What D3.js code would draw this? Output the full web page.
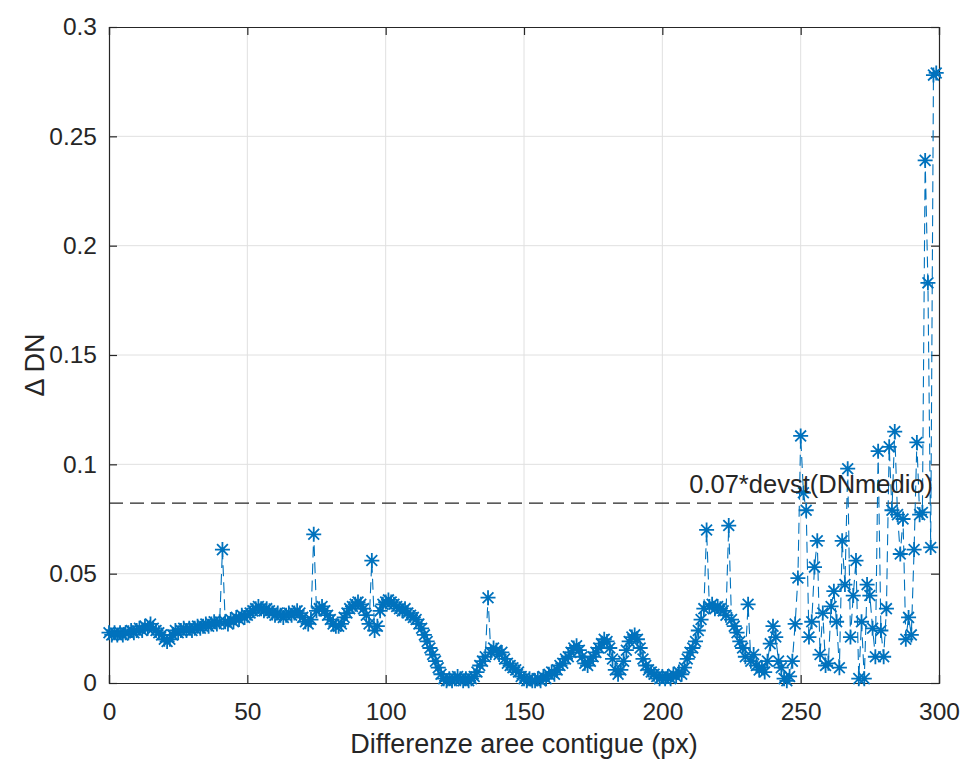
<!DOCTYPE html>
<html>
<head>
<meta charset="utf-8">
<script src="https://cdn.jsdelivr.net/npm/d3@7"></script>
<style>
	body { margin: 0; background: #fff; }
	text { font-family: "Liberation Sans", Arial, Helvetica, sans-serif; fill: #262626; }
</style>
</head>
<body>
<div id="chart"></div>
<script>

// ΔDN per ogni differenza di area (x = 0, 1, 2, ...)
let deltaDN = [
	0.023, 0.022, 0.023, 0.022, 0.023, 0.022, 0.023, 0.023, 0.024, 0.023,
	0.024, 0.025, 0.024, 0.026, 0.025, 0.027, 0.025, 0.024, 0.023, 0.022,
	0.020, 0.019, 0.020, 0.022, 0.024, 0.023, 0.024, 0.025, 0.024, 0.025,
	0.024, 0.025, 0.026, 0.025, 0.026, 0.027, 0.026, 0.027, 0.028, 0.027,
	0.028, 0.061, 0.028, 0.027, 0.029, 0.028, 0.030, 0.029, 0.031, 0.030,
	0.031, 0.032, 0.033, 0.034, 0.035, 0.034, 0.033, 0.034, 0.033, 0.032,
	0.031, 0.032, 0.031, 0.030, 0.031, 0.032, 0.031, 0.032, 0.033, 0.032,
	0.030, 0.028, 0.027, 0.029, 0.068, 0.033, 0.034, 0.035, 0.033, 0.031,
	0.029, 0.027, 0.026, 0.026, 0.027, 0.030, 0.032, 0.034, 0.035, 0.036,
	0.037, 0.036, 0.034, 0.031, 0.027, 0.056, 0.024, 0.026, 0.033, 0.036,
	0.037, 0.038, 0.037, 0.036, 0.035, 0.034, 0.033, 0.034, 0.032, 0.031,
	0.030, 0.029, 0.027, 0.025, 0.022, 0.019, 0.016, 0.013, 0.010, 0.007,
	0.004, 0.002, 0.001, 0.002, 0.001, 0.002, 0.003, 0.002, 0.001, 0.002,
	0.001, 0.002, 0.003, 0.005, 0.008, 0.010, 0.012, 0.039, 0.014, 0.016,
	0.015, 0.013, 0.014, 0.011, 0.009, 0.008, 0.007, 0.006, 0.005, 0.003,
	0.002, 0.001, 0.002, 0.001, 0.001, 0.002, 0.001, 0.003, 0.002, 0.004,
	0.005, 0.004, 0.006, 0.008, 0.009, 0.011, 0.012, 0.014, 0.016, 0.017,
	0.015, 0.012, 0.009, 0.008, 0.010, 0.012, 0.014, 0.016, 0.018, 0.020,
	0.019, 0.016, 0.011, 0.006, 0.004, 0.006, 0.010, 0.015, 0.019, 0.021,
	0.022, 0.020, 0.016, 0.011, 0.008, 0.006, 0.005, 0.004, 0.003, 0.002,
	0.003, 0.002, 0.003, 0.002, 0.004, 0.003, 0.005, 0.004, 0.007, 0.011,
	0.014, 0.016, 0.019, 0.024, 0.029, 0.034, 0.070, 0.035, 0.036, 0.034,
	0.035, 0.034, 0.033, 0.031, 0.072, 0.029, 0.026, 0.023, 0.019, 0.016,
	0.012, 0.036, 0.010, 0.013, 0.008, 0.006, 0.007, 0.005, 0.010, 0.018,
	0.026, 0.021, 0.010, 0.007, 0.002, 0.001, 0.003, 0.010, 0.027, 0.048,
	0.113, 0.087, 0.079, 0.021, 0.028, 0.053, 0.065, 0.013, 0.032, 0.008,
	0.009, 0.035, 0.042, 0.028, 0.007, 0.065, 0.045, 0.098, 0.021, 0.040,
	0.056, 0.002, 0.028, 0.002, 0.045, 0.040, 0.025, 0.012, 0.106, 0.024,
	0.012, 0.034, 0.108, 0.079, 0.115, 0.077, 0.059, 0.075, 0.020, 0.030,
	0.022, 0.061, 0.110, 0.077, 0.078, 0.239, 0.183, 0.062, 0.278, 0.279
];

let xTicks = [0, 50, 100, 150, 200, 250, 300],
	yTicks = [0, 0.05, 0.1, 0.15, 0.2, 0.25, 0.3];

// soglia: 0.07*devst(DNmedio)
let thresholdValue = 0.0823,
	thresholdLabel = "0.07*devst(DNmedio)";

let xLabel = "Differenze aree contigue (px)",
	yLabel = "\u0394 DN";


function draw () {

	let width 	= 966,
		height 	= 764,
		margin 	= {left: 109, right: 27, top: 27, bottom: 81},
		plotW 	= width - margin.left - margin.right,
		plotH 	= height - margin.top - margin.bottom;

	let blue 	= "#0072bd",
		axisCol = "#262626",
		gridCol = "#e0e0e0";

	let svg = d3.select("#chart")
		.append("svg")
			.attr("width", width)
			.attr("height", height);

	let g = svg.append("g")
		.attr("transform", "translate(" + margin.left + "," + margin.top + ")");

	let xScale = d3.scaleLinear()
		.domain([0, 300])
		.range([0, plotW]);

	let yScale = d3.scaleLinear()
		.domain([0, 0.3])
		.range([plotH, 0]);

	// grid /////////////////////////////////////////////////

	g.append("g")
		.selectAll("line")
		.data(xTicks.slice(1, -1))
			.enter()
				.append("line")
					.attr("x1", d => xScale(d))
					.attr("x2", d => xScale(d))
					.attr("y1", 0)
					.attr("y2", plotH)
					.style("stroke", gridCol);

	g.append("g")
		.selectAll("line")
		.data(yTicks.slice(1, -1))
			.enter()
				.append("line")
					.attr("x1", 0)
					.attr("x2", plotW)
					.attr("y1", d => yScale(d))
					.attr("y2", d => yScale(d))
					.style("stroke", gridCol);

	// axes (ticks inside, box on) ////////////////////////////

	let fmt = d3.format("~g");

	g.append("g")
		.attr("transform", "translate(0," + plotH + ")")
		.call(d3.axisBottom(xScale).tickValues(xTicks).tickFormat(fmt).tickSize(-8).tickPadding(20));

	g.append("g")
		.call(d3.axisLeft(yScale).tickValues(yTicks).tickFormat(fmt).tickSize(-8).tickPadding(12));

	g.append("g")
		.call(d3.axisTop(xScale).tickValues(xTicks).tickFormat("").tickSize(-8));

	g.append("g")
		.attr("transform", "translate(" + plotW + ",0)")
		.call(d3.axisRight(yScale).tickValues(yTicks).tickFormat("").tickSize(-8));

	g.selectAll(".domain, .tick line")
		.style("stroke", axisCol)
		.style("stroke-width", 1.2);

	g.selectAll(".tick text")
		.style("font-size", "24.5px")
		.style("fill", axisCol);

	// threshold line //////////////////////////////////////////

	g.append("line")
		.attr("x1", 0)
		.attr("x2", plotW)
		.attr("y1", yScale(thresholdValue))
		.attr("y2", yScale(thresholdValue))
		.style("stroke", axisCol)
		.style("stroke-width", 1.2)
		.style("stroke-dasharray", "14,7");

	// data: dashed line + asterisk markers //////////////////

	let points = deltaDN.map((v, i) => [i, v]);

	let line = d3.line()
		.x(d => xScale(d[0]))
		.y(d => yScale(d[1]));

	g.append("path")
		.datum(points)
		.attr("d", line)
		.style("fill", "none")
		.style("stroke", blue)
		.style("stroke-width", 1.1)
		.style("stroke-dasharray", "11,6");

	let r = 7.5,
		rd = r * 0.72;

	let starPath = "M" + (-r) + ",0H" + r +
		"M0," + (-r) + "V" + r +
		"M" + (-rd) + "," + (-rd) + "L" + rd + "," + rd +
		"M" + (-rd) + "," + rd + "L" + rd + "," + (-rd);

	g.append("g")
		.selectAll(".point")
		.data(points)
			.enter()
				.append("path")
					.attr("class", "point")
					.attr("transform", d => "translate(" + xScale(d[0]) + "," + yScale(d[1]) + ")")
					.attr("d", starPath)
					.style("fill", "none")
					.style("stroke", blue)
					.style("stroke-width", 1.8);

	// threshold text
	g.append("text")
		.attr("x", plotW - 6)
		.attr("y", yScale(thresholdValue) - 10)
		.attr("text-anchor", "end")
		.style("font-size", "25.5px")
		.text(thresholdLabel);

	// axis labels
	svg.append("text")
		.attr("x", margin.left + plotW / 2)
		.attr("y", 753)
		.attr("text-anchor", "middle")
		.style("font-size", "27px")
		.text(xLabel);

	svg.append("text")
		.attr("transform", "translate(44," + (margin.top + plotH / 2 + 10) + ") rotate(-90)")
		.attr("text-anchor", "middle")
		.style("font-size", "27px")
		.text(yLabel);
};

draw();

</script>
</body>
</html>
